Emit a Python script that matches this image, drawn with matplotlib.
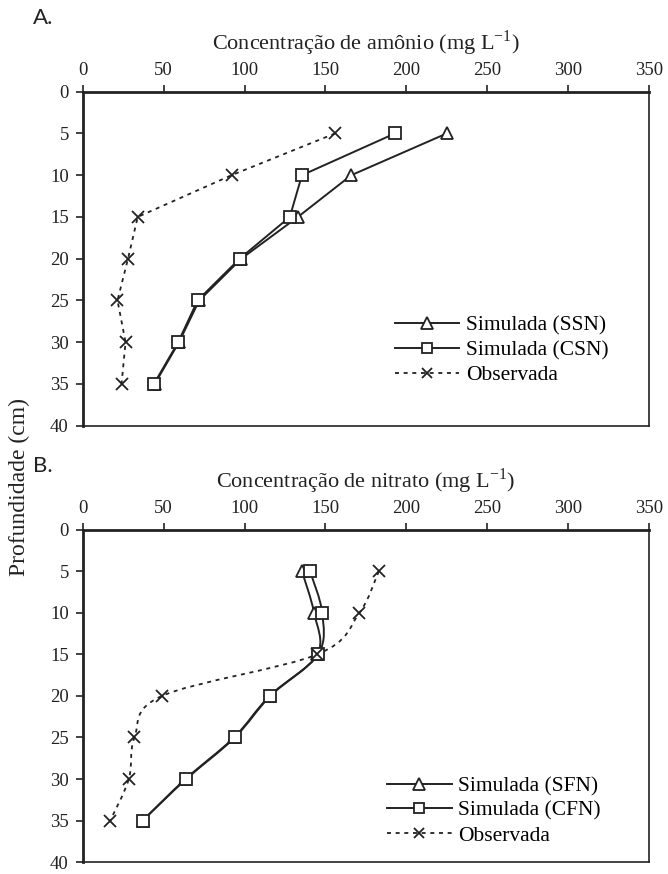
import matplotlib
matplotlib.use('Agg')
import matplotlib.pyplot as plt
from matplotlib.path import Path
from matplotlib.patches import PathPatch
from matplotlib.lines import Line2D

plt.rcParams['font.family'] = ['Liberation Serif', 'DejaVu Serif']
plt.rcParams['mathtext.fontset'] = 'custom'
plt.rcParams['mathtext.rm'] = 'Liberation Serif'

depth = [5, 10, 15, 20, 25, 30, 35]

# Painel A - amonio
amonio_ssn = [225, 166, 133, 98, 72, 59.5, 44.5]
amonio_csn = [193, 135.5, 128, 97, 71, 59, 44]
amonio_obs = [156, 92, 34, 28, 21.5, 26.5, 24]

# Painel B - nitrato
nitrato_sfn = [135.5, 143, 145, 115.5, 93.5, 63.5, 37]
nitrato_cfn = [140.5, 148, 145.5, 116, 94, 64, 37]
nitrato_obs = [183, 171, 145, 49, 32, 28.5, 17]

x_ticks = [0, 50, 100, 150, 200, 250, 300, 350]
y_ticks = [0, 5, 10, 15, 20, 25, 30, 35, 40]

obs_dash = (0, (2.2, 2.6))
ink = '#222222'


def smooth_path(xs, ys):
    # bezier suave (estilo Excel) passando pelos pontos
    pts = list(zip(xs, ys))
    verts = [pts[0]]
    codes = [Path.MOVETO]
    n = len(pts)
    for i in range(n - 1):
        p0 = pts[i - 1] if i > 0 else pts[i]
        p1 = pts[i]
        p2 = pts[i + 1]
        p3 = pts[i + 2] if i + 2 < n else pts[i + 1]
        c1 = (p1[0] + (p2[0] - p0[0]) / 6, p1[1] + (p2[1] - p0[1]) / 6)
        c2 = (p2[0] - (p3[0] - p1[0]) / 6, p2[1] - (p3[1] - p1[1]) / 6)
        verts += [c1, c2, p2]
        codes += [Path.CURVE4] * 3
    return Path(verts, codes)


def style_axes(ax, xlabel):
    ax.set_xlim(0, 350)
    ax.set_ylim(40, 0)
    ax.set_xticks(x_ticks)
    ax.set_yticks(y_ticks)
    ax.xaxis.tick_top()
    ax.xaxis.set_label_position('top')
    ax.tick_params(axis='both', direction='out', length=5, width=1.2,
                   labelsize=13.5, colors=ink)
    ax.tick_params(axis='x', pad=4)
    ax.tick_params(axis='y', pad=5)
    ax.set_xlabel(xlabel, fontsize=16, labelpad=9, color=ink)
    ax.spines['top'].set_linewidth(2.0)
    ax.spines['left'].set_linewidth(2.0)
    ax.spines['right'].set_linewidth(1.2)
    ax.spines['bottom'].set_linewidth(1.2)
    for s in ax.spines.values():
        s.set_color(ink)


fig = plt.figure(figsize=(6.68, 8.74), dpi=100)
ax1 = fig.add_axes([0.1238, 0.5129, 0.8478, 0.3822])
ax2 = fig.add_axes([0.1238, 0.0135, 0.8478, 0.3805])

mk = dict(markerfacecolor='white', markeredgecolor=ink, markeredgewidth=1.3)
leg_kw = dict(frameon=False, fontsize=15.5, handlelength=3.0, handletextpad=0.3,
              labelspacing=0.22, numpoints=1, borderaxespad=0, markerscale=0.9,
              loc='upper left')

# ---- A ----
style_axes(ax1, r'Concentração de amônio (mg L$^{\mathregular{-1}}$)')
ax1.plot(amonio_ssn, depth, color=ink, lw=1.4, marker='^', markersize=9,
         label='Simulada (SSN)', **mk)
ax1.plot(amonio_csn, depth, color=ink, lw=1.4, marker='s', markersize=8,
         label='Simulada (CSN)', **mk)
ax1.plot(amonio_obs, depth, color=ink, lw=1.3, linestyle=obs_dash,
         marker='x', markersize=8, markeredgewidth=1.3, label='Observada')
ax1.legend(bbox_to_anchor=(0.536, 0.355), **leg_kw)

# ---- B ----
style_axes(ax2, r'Concentração de nitrato (mg L$^{\mathregular{-1}}$)')
series_b = [
    (nitrato_sfn, '^', 9, 'Simulada (SFN)', '-', 1.4),
    (nitrato_cfn, 's', 8, 'Simulada (CFN)', '-', 1.4),
    (nitrato_obs, 'x', 8, 'Observada', obs_dash, 1.3),
]
handles = []
labels = []
for xs, m, ms, lab, ls, lw in series_b:
    patch = PathPatch(smooth_path(xs, depth), facecolor='none', edgecolor=ink,
                      lw=lw, linestyle=ls, zorder=2)
    ax2.add_patch(patch)
    if m == 'x':
        ax2.plot(xs, depth, linestyle='none', marker=m, markersize=ms,
                 markeredgecolor=ink, markeredgewidth=1.3, zorder=3)
        h = Line2D([], [], color=ink, lw=lw, linestyle=ls, marker=m,
                   markersize=ms, markeredgewidth=1.3)
    else:
        ax2.plot(xs, depth, linestyle='none', marker=m, markersize=ms, zorder=3, **mk)
        h = Line2D([], [], color=ink, lw=lw, linestyle=ls, marker=m,
                   markersize=ms, **mk)
    handles.append(h)
    labels.append(lab)
ax2.legend(handles, labels, bbox_to_anchor=(0.522, 0.285), **leg_kw)

# rotulos dos paineis
fig.text(0.050, 0.979, 'A.', fontsize=16, family=['Lato', 'DejaVu Sans'],
         color=ink, va='center', ha='left')
fig.text(0.050, 0.467, 'B.', fontsize=16, family=['Lato', 'DejaVu Sans'],
         color=ink, va='center', ha='left')
fig.text(0.029, 0.443, 'Profundidade (cm)', fontsize=17, rotation=90,
         color=ink, va='center', ha='center')

fig.savefig('out.png', dpi=100)
